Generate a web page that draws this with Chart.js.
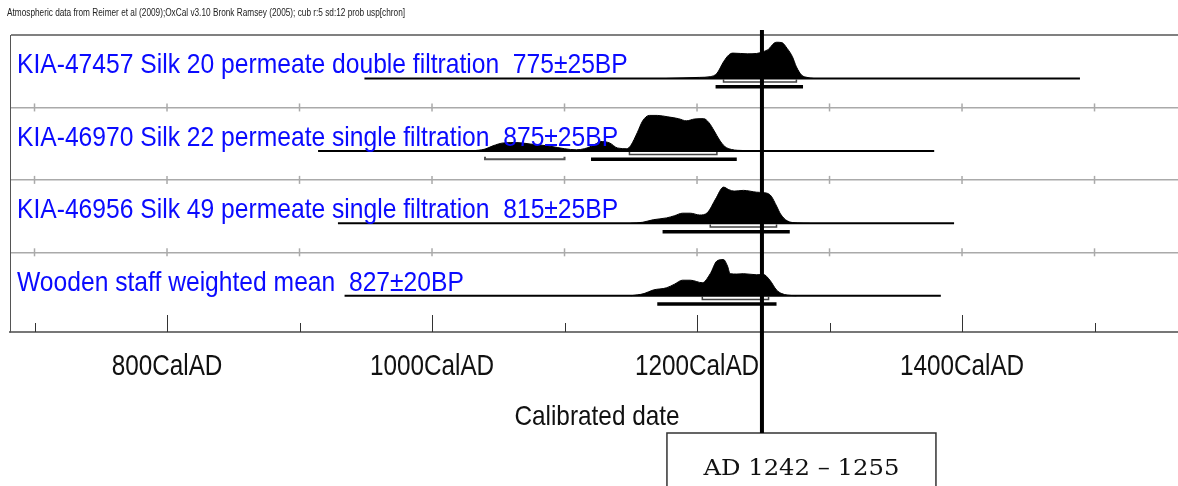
<!DOCTYPE html>
<html>
<head>
<meta charset="utf-8">
<script src="https://cdn.jsdelivr.net/npm/chart.js@4.4.1/dist/chart.umd.min.js"></script>
<style>
  html, body { margin: 0; padding: 0; background: #fff; }
  #wrap { width: 1178px; height: 486px; position: relative; }
</style>
</head>
<body>
<div id="wrap"><canvas id="oxcal"></canvas></div>
<script>
const headerText = 'Atmospheric data from Reimer et al (2009);OxCal v3.10 Bronk Ramsey (2005); cub r:5 sd:12 prob usp[chron]';
const axisTitle = 'Calibrated date';
const tickYears = [700, 800, 900, 1000, 1100, 1200, 1300, 1400, 1500];
const labelYears = [800, 1000, 1200, 1400];
const labelSuffix = 'CalAD';

const sampleLabels = [
  'KIA-47457 Silk 20 permeate double filtration  775±25BP',
  'KIA-46970 Silk 22 permeate single filtration  875±25BP',
  'KIA-46956 Silk 49 permeate single filtration  815±25BP',
  'Wooden staff weighted mean  827±20BP'
];

// calibrated probability curves (relative to each curve's maximum)
const kia47457Years = [1177, 1202, 1210, 1215, 1220, 1224, 1227, 1233, 1238, 1245, 1250, 1254, 1258, 1260, 1264, 1268, 1272, 1275, 1279, 1283, 1288];
const kia47457Prob  = [0, 0.03, 0.05, 0.14, 0.46, 0.65, 0.70, 0.69, 0.68, 0.69, 0.74, 0.81, 0.97, 1.0, 0.99, 0.83, 0.60, 0.32, 0.09, 0.03, 0];

const kia46970Years = [1030, 1040, 1046, 1054, 1064, 1074, 1089, 1100, 1109, 1115, 1119, 1124, 1127, 1134, 1140, 1147, 1150, 1155, 1159, 1164, 1170, 1178, 1186, 1192, 1198, 1205, 1209, 1213, 1217, 1221, 1226, 1235, 1245];
const kia46970Prob  = [0, 0.05, 0.14, 0.22, 0.23, 0.19, 0.13, 0.06, 0.03, 0.06, 0.11, 0.20, 0.26, 0.22, 0.08, 0.06, 0.15, 0.51, 0.83, 0.98, 0.98, 0.94, 0.89, 0.83, 0.88, 0.89, 0.78, 0.55, 0.30, 0.12, 0.04, 0.01, 0];

const kia46956Years = [1150, 1159, 1167, 1177, 1183, 1189, 1195, 1202, 1208, 1214, 1220, 1224, 1228, 1235, 1245, 1253, 1256, 1260, 1263, 1268, 1276, 1285];
const kia46956Prob  = [0, 0.03, 0.10, 0.15, 0.21, 0.28, 0.28, 0.23, 0.30, 0.67, 1.0, 0.93, 0.89, 0.91, 0.86, 0.83, 0.75, 0.48, 0.26, 0.07, 0.01, 0];

const staffYears = [1150, 1160, 1167, 1177, 1183, 1189, 1195, 1204, 1210, 1215, 1220, 1223, 1225, 1230, 1235, 1245, 1250, 1255, 1260, 1264, 1268, 1275];
const staffProb  = [0, 0.06, 0.16, 0.22, 0.32, 0.43, 0.43, 0.36, 0.61, 0.96, 1.0, 0.82, 0.61, 0.60, 0.61, 0.58, 0.59, 0.43, 0.16, 0.06, 0.02, 0];

// extent of each calibrated curve's baseline
const curveSpans = [[949, 1489], [914, 1379], [929, 1394], [934, 1384]];

// 68.2% ranges (bracket), 95.4% ranges (bar), plus a minor 95.4% piece drawn thin
const range68 = [[[1220, 1275]], [[1149, 1215]], [[1210, 1260]], [[1204, 1254]]];
const range95 = [[[1214, 1280]], [[1120, 1230]], [[1174, 1270]], [[1170, 1260]]];
const range95Minor = [[], [[1040, 1100]], [], []];

const markYear = 1249;
const markText = 'AD 1242 – 1255';

const curveYears = [kia47457Years, kia46970Years, kia46956Years, staffYears];
const curveProb = [kia47457Prob, kia46970Prob, kia46956Prob, staffProb];

const nRows = sampleLabels.length;
const peakH = 0.5;
const rowBase = i => (nRows - 1 - i) + 0.4;

const sans = "'Liberation Sans', Arial, sans-serif";

function drawText(ctx, str, x, y, size, sx, align, color, family) {
  ctx.save();
  ctx.font = size + 'px ' + (family || sans);
  ctx.fillStyle = color;
  ctx.textAlign = align;
  ctx.textBaseline = 'alphabetic';
  ctx.translate(x, y);
  ctx.scale(sx, 1);
  ctx.fillText(str, 0, 0);
  ctx.restore();
}

function flatLine(a, b, yv, color, width) {
  return { data: [{ x: a, y: yv }, { x: b, y: yv }], borderColor: color, borderWidth: width, pointRadius: 0, fill: false };
}

function bracket(r, yv, color, width) {
  const up = 0.035;
  return {
    data: [{ x: r[0], y: yv + up }, { x: r[0], y: yv }, { x: r[1], y: yv }, { x: r[1], y: yv + up }],
    borderColor: color, borderWidth: width, pointRadius: 0, fill: false
  };
}

const datasets = [];
curveYears.forEach((years, i) => {
  const base = rowBase(i);
  datasets.push({
    data: years.map((yr, k) => ({ x: yr, y: base + curveProb[i][k] * peakH })),
    fill: { value: base },
    backgroundColor: '#000',
    borderColor: '#000',
    borderWidth: 1,
    pointRadius: 0,
    cubicInterpolationMode: 'monotone'
  });
  datasets.push(flatLine(curveSpans[i][0], curveSpans[i][1], base, '#000', 2));
  range68[i].forEach(r => datasets.push(bracket(r, base - 0.05, '#444', 1.5)));
  range95Minor[i].forEach(r => datasets.push(bracket(r, base - 0.115, '#555', 2)));
  range95[i].forEach(r => datasets.push(flatLine(r[0], r[1], base - 0.115, '#000', 3.5)));
});

const decor = {
  id: 'oxcalDecor',
  beforeDatasetsDraw(chart) {
    const { ctx, chartArea: a, scales: { x, y } } = chart;
    ctx.save();
    // cross ticks on the row dividers
    ctx.strokeStyle = '#aaaaaa';
    ctx.lineWidth = 1.5;
    for (let v = 1; v < nRows; v++) {
      const py = y.getPixelForValue(v);
      tickYears.forEach(t => {
        const px = x.getPixelForValue(t);
        ctx.beginPath(); ctx.moveTo(px, py - 4); ctx.lineTo(px, py + 4); ctx.stroke();
      });
    }
    // axis ticks pointing up into the plot
    ctx.strokeStyle = '#333';
    ctx.lineWidth = 1;
    tickYears.forEach(t => {
      const px = Math.round(x.getPixelForValue(t)) + 0.5;
      const len = labelYears.includes(t) ? 17 : 9;
      ctx.beginPath(); ctx.moveTo(px, a.bottom); ctx.lineTo(px, a.bottom - len); ctx.stroke();
    });
    ctx.restore();
  },
  afterDatasetsDraw(chart) {
    const { ctx, chartArea: a, scales: { x, y } } = chart;

    drawText(ctx, headerText, 7, 16, 11, 0.75, 'left', '#222');

    sampleLabels.forEach((s, i) => {
      drawText(ctx, s, 17, y.getPixelForValue(rowBase(i)) - 5, 28, 0.88, 'left', '#0a0aff');
    });

    labelYears.forEach(t => {
      drawText(ctx, t + labelSuffix, x.getPixelForValue(t), 375, 30, 0.81, 'center', '#111');
    });
    drawText(ctx, axisTitle, 597, 425, 28, 0.87, 'center', '#111');

    // highlighted date: vertical marker and its box
    const mx = x.getPixelForValue(markYear);
    const boxTop = 433, boxLeft = mx - 95, boxW = 269;
    ctx.save();
    ctx.fillStyle = '#fff';
    ctx.fillRect(boxLeft, boxTop, boxW, 70);
    ctx.strokeStyle = '#333';
    ctx.lineWidth = 1.5;
    ctx.strokeRect(boxLeft, boxTop, boxW, 70);
    ctx.strokeStyle = '#000';
    ctx.lineWidth = 4;
    ctx.beginPath(); ctx.moveTo(mx, 30); ctx.lineTo(mx, boxTop); ctx.stroke();
    ctx.restore();
    drawText(ctx, markText, boxLeft + boxW / 2, 475, 22.5, 1.08, 'center', '#111', "'DejaVu Serif', serif");
  }
};

new Chart(document.getElementById('oxcal'), {
  type: 'line',
  data: { datasets },
  options: {
    responsive: true,
    maintainAspectRatio: false,
    devicePixelRatio: 1,
    animation: false,
    layout: { padding: { left: 10, right: 0, top: 35, bottom: 154 } },
    plugins: { legend: { display: false }, tooltip: { enabled: false } },
    scales: {
      x: {
        type: 'linear',
        min: 681.5,
        max: 1563,
        ticks: { display: false },
        grid: { display: false },
        border: { display: true, color: '#777', width: 2 },
        afterFit: s => { s.height = 0; }
      },
      y: {
        type: 'linear',
        min: -0.1,
        max: nRows,
        ticks: { display: false },
        afterBuildTicks: s => { s.ticks = [1, 2, 3, 4].map(v => ({ value: v })); },
        grid: {
          drawTicks: false,
          color: c => c.tick && c.tick.value === nRows ? '#808080' : '#aaaaaa',
          lineWidth: c => c.tick && c.tick.value === nRows ? 2 : 1.5
        },
        border: { display: true, color: '#555', width: 1 },
        afterFit: s => { s.width = 0; }
      }
    }
  },
  plugins: [decor]
});
</script>
</body>
</html>
